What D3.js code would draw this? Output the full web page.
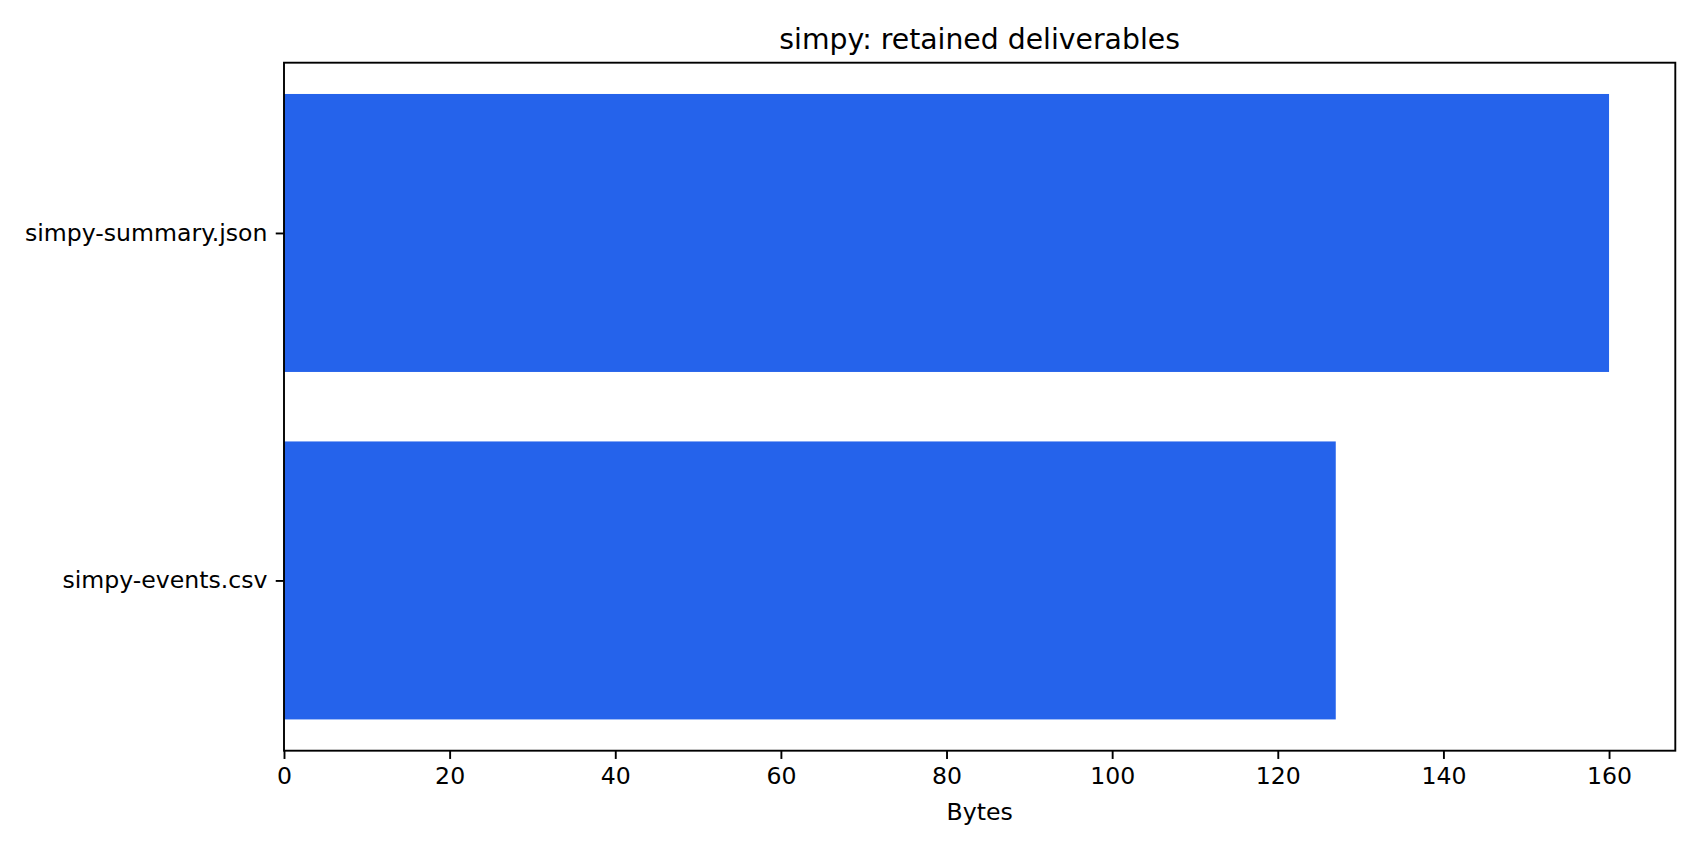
<!DOCTYPE html>
<html>
<head>
<meta charset="utf-8">
<script src="https://cdn.jsdelivr.net/npm/d3@7"></script>
<style>
  html, body { margin: 0; padding: 0; background: #fff; }
  svg { display: block; }
  text { font-family: "DejaVu Sans", sans-serif; fill: #000; }
</style>
</head>
<body>
<svg id="chart" width="1700" height="850"></svg>
<script>
// Data
const categories = ["simpy-events.csv", "simpy-summary.json"];
const values = [127, 160];
const xTicks = [0, 20, 40, 60, 80, 100, 120, 140, 160];
const titleText = "simpy: retained deliverables";
const xLabelText = "Bytes";

const W = 1700, H = 850;
const L = 284, R = 1675.3, T = 62.7, B = 750.7;
const fontPx = 23.6, titlePx = 28.3;
const tickLen = 8.26, tickPad = 8.26, lw = 1.9;
const barColor = "#2563eb";

const svg = d3.select("#chart");
svg.append("rect").attr("width", W).attr("height", H).attr("fill", "#fff");

const xMax = d3.max(values) * 1.05;
const x = d3.scaleLinear().domain([0, xMax]).range([L, R]);
const barH = 0.8;
const yLo = -barH / 2 - (categories.length - 1 + barH) * 0.05;
const yHi = categories.length - 1 + barH / 2 + (categories.length - 1 + barH) * 0.05;
const y = d3.scaleLinear().domain([yLo, yHi]).range([B, T]);

// Bars
svg.append("g").selectAll("rect").data(values).join("rect")
  .attr("x", x(0))
  .attr("y", (d, i) => y(i + barH / 2))
  .attr("width", d => x(d) - x(0))
  .attr("height", (d, i) => y(i - barH / 2) - y(i + barH / 2))
  .attr("fill", barColor);

// X axis
const xAxis = d3.axisBottom(x).tickValues(xTicks).tickSize(tickLen).tickPadding(tickPad).tickFormat(d3.format("d"));
const gx = svg.append("g").attr("transform", `translate(0,${B})`).call(xAxis);
gx.select(".domain").remove();
gx.selectAll(".tick line").attr("stroke", "#000").attr("stroke-width", lw);
gx.selectAll(".tick text").attr("font-size", fontPx).attr("font-family", "DejaVu Sans").attr("fill", "#000");

// Y axis
const yAxis = d3.axisLeft(y).tickValues(categories.map((c, i) => i)).tickFormat(i => categories[i])
  .tickSize(tickLen).tickPadding(tickPad);
const gy = svg.append("g").attr("transform", `translate(${L},0)`).call(yAxis);
gy.select(".domain").remove();
gy.selectAll(".tick line").attr("stroke", "#000").attr("stroke-width", lw);
gy.selectAll(".tick text").attr("font-size", fontPx).attr("font-family", "DejaVu Sans").attr("fill", "#000");

// Spines
svg.append("rect").attr("x", L).attr("y", T).attr("width", R - L).attr("height", B - T)
  .attr("fill", "none").attr("stroke", "#000").attr("stroke-width", lw);

// Title
svg.append("text").attr("x", (L + R) / 2).attr("y", T - 14.2)
  .attr("text-anchor", "middle").attr("font-size", titlePx).text(titleText);

// X label
svg.append("text").attr("x", (L + R) / 2).attr("y", 820)
  .attr("text-anchor", "middle").attr("font-size", fontPx).text(xLabelText);
</script>
</body>
</html>
